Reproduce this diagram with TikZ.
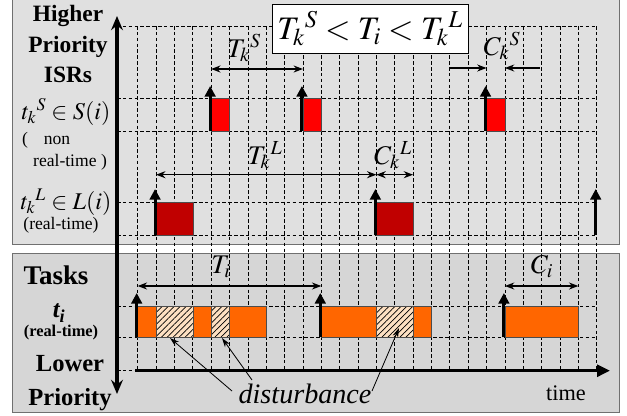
\documentclass[tikz,border=0pt]{standalone}
\usepackage{mathptmx}
\usepackage{fontspec}
\setmainfont{Liberation Serif}
\usetikzlibrary{arrows.meta,patterns.meta,positioning}

\definecolor{panelhi}{HTML}{E0E0E0}
\definecolor{panello}{HTML}{D6D6D6}
\definecolor{edgegray}{HTML}{707070}
\definecolor{isrred}{HTML}{FF0000}
\definecolor{isrdark}{HTML}{C00000}
\definecolor{taskorange}{HTML}{FF6600}
\definecolor{peach}{HTML}{FDE0C2}

% x position of grid column #1 (pixels)
\newcommand\gx[1]{137.7+18.36*(#1)}

\begin{document}
\begin{tikzpicture}[x=0.03cm, y=-0.03cm,
    grid/.style={dash pattern=on 3pt off 2pt, line width=0.6pt},
    release/.style={line width=2.6pt, -{Triangle[length=9pt,width=9pt]}},
    span/.style={line width=1.1pt, {Stealth[length=8pt,width=6pt]}-{Stealth[length=8pt,width=6pt]}},
    point/.style={line width=1.1pt, -{Stealth[length=8pt,width=6pt]}},
    note/.style={line width=0.7pt, -{Stealth[length=8pt,width=5pt]}},
    side/.style={font=\bfseries\fontsize{20}{26}\selectfont, align=center},
    dim/.style={font=\fontsize{23}{26}\selectfont, inner sep=0pt}]
\useasboundingbox (0,0) rectangle (627,415);

% panels
\draw[edgegray, fill=panelhi, line width=0.8pt] (12,-2) rectangle (619,244);
\draw[edgegray, fill=panello, line width=0.8pt] (12,253) rectangle (619,412);

% grid
\foreach \i in {0,...,25}
    \draw[grid] ({\gx{\i}},26) -- ({\gx{\i}},370.7);
\foreach \yy in {26,98.7,131.3,202.3,235,306.7,337.3}
    \draw[grid] (117,\yy) -- (596.7,\yy);
\draw[grid] (117,370.7) -- (135,370.7);

% sporadic ISR
\foreach \i in {4,9,19}
    \draw[black!70, fill=isrred, line width=0.4pt] ({\gx{\i}},98.7) rectangle ({\gx{\i+1}},131.3);
% periodic ISR
\foreach \i in {1,13}
    \draw[black!70, fill=isrdark, line width=0.4pt] ({\gx{\i}},202.3) rectangle ({\gx{\i+2}},235);

% task
\foreach \a/\b in {0/7,10/16,20/24}
    \draw[black!70, fill=taskorange, line width=0.4pt] ({\gx{\a}},306.7) rectangle ({\gx{\b}},337.3);
\foreach \a/\b in {1/3,4/5,13/15} {
    \fill[peach] ({\gx{\a}},306.7) rectangle ({\gx{\b}},337.3);
    \fill[pattern={Lines[angle=45,distance=3.6pt,line width=0.6pt]}] ({\gx{\a}},306.7) rectangle ({\gx{\b}},337.3);
    \draw[black!70, line width=0.4pt] ({\gx{\a}},306.7) rectangle ({\gx{\b}},337.3);
}

% releases
\foreach \i in {4,9,19}
    \draw[release] ({\gx{\i}-1},131.3) -- ({\gx{\i}-1},86);
\foreach \i in {1,13,25}
    \draw[release] ({\gx{\i}-1},235) -- ({\gx{\i}-1},189);
\foreach \i in {0,10,20}
    \draw[release] ({\gx{\i}-1},337.3) -- ({\gx{\i}-1},293);

% axes
\draw[line width=3pt, {Stealth[length=12pt,width=10pt]}-{Stealth[length=12pt,width=10pt]}] (117,16) -- (117,394);
\draw[line width=3pt, -{Triangle[length=11pt,width=10pt]}] (135,370.7) -- (610,370.7);

% periods and execution times
\draw[span] ({\gx{4}},69) -- ({\gx{9}},69);
\draw[point] (450,68) -- ({\gx{19}},68);
\draw[point] (540,68) -- ({\gx{20}},68);
\draw[span] ({\gx{1}},174.7) -- ({\gx{13}},174.7);
\draw[span] ({\gx{13}},174.7) -- ({\gx{15}},174.7);
\draw[span] ({\gx{0}},286) -- ({\gx{10}},286);
\draw[span] ({\gx{20}},286) -- ({\gx{24}},286);

\node[dim] (TkS) at (244,48) {$T_k{}^S$};
\node[dim] (CkS) at (502,46) {$C_k{}^S$};
\node[dim] (TkL) at (265,155) {$T_k{}^L$};
\node[dim] (CkL) at (393,155) {$C_k{}^L$};
\node[dim] (Ti) at (221,267) {$T_i$};
\node[dim] (Ci) at (542,267) {$C_i$};

% relation box
\node[draw, fill=white, line width=0.8pt, minimum width=5.88cm, minimum height=1.47cm, inner sep=2pt,
      font=\fontsize{28}{30}\selectfont] (order) at (370,28.5) {$T_k{}^S < T_i < T_k{}^L$};

% left side labels
\node[side] (higher) at (68,44) {Higher\\Priority\\ISRs};
\node[font=\fontsize{20.5}{22}\selectfont] (tkS) at (66,112) {$t_k{}^S \in S(i)$};
\node[font=\fontsize{15}{18}\selectfont, anchor=west] (nonrt) at (18,140) {(\hspace{0.9em}non};
\node[font=\fontsize{15}{18}\selectfont] (nonrt2) at (70,162) {real-time )};
\node[font=\fontsize{20.5}{22}\selectfont] (tkL) at (66,202) {$t_k{}^L \in L(i)$};
\node[font=\fontsize{15}{18}\selectfont] (rtL) at (61,225) {(real-time)};
\node[font=\bfseries\fontsize{23}{26}\selectfont] (tasks) at (56,275) {Tasks};
\node[font=\bfseries\itshape\fontsize{21}{24}\selectfont] (ti) at (59,313) {t\textsubscript{i}};
\node[font=\bfseries\fontsize{14}{17}\selectfont] (rtT) at (61,333) {(real-time)};
\node[side, font=\bfseries\fontsize{21}{29}\selectfont] (lower) at (70,383) {Lower\\Priority};

% disturbance
\node[font=\itshape\fontsize{24}{26}\selectfont] (dist) at (305,394) {disturbance};
\node[font=\fontsize{19}{22}\selectfont] (time) at (566,393) {time};
\coordinate (d1) at (170,338);
\coordinate (d2) at (222,338);
\coordinate (d3) at (399,328);
\draw[note] (232,391) -- (d1);
\draw[note] (252,380) -- (d2);
\draw[note] (372,391) -- (d3);
\end{tikzpicture}
\end{document}
